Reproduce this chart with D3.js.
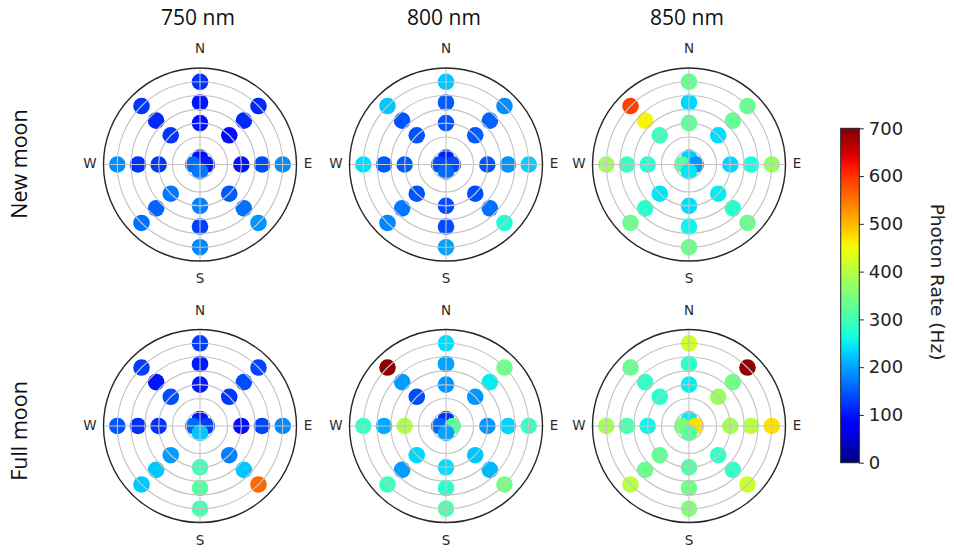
<!DOCTYPE html>
<html>
<head>
<meta charset="utf-8">
<script src="https://cdn.jsdelivr.net/npm/d3@7"></script>
<style>
  html, body { margin: 0; padding: 0; background: #fff; }
  svg { display: block; }
</style>
</head>
<body>
<svg id="chart" width="954" height="552"></svg>
<script>
// ---------------- data ----------------
const wavelengths = ["750 nm", "800 nm", "850 nm"];
const conditions = ["New moon", "Full moon"];
const compassLabels = ["N", "E", "S", "W"];
const directions = ["N", "NE", "E", "SE", "S", "SW", "W", "NW"];      // azimuth 0,45,...,315
const directionAzimuth = [0, 45, 90, 135, 180, 225, 270, 315];
const zenithRings = [30, 45, 60];                                    // zenith angle (deg)
const centerDirections = ["N", "W", "E", "S"];
const centerAzimuth = [0, 270, 90, 180];
const centerZenith = 5;
const gridZenith = [10, 20, 30, 40, 50, 60];
const zenithMax = 70;
const colorTicks = [0, 100, 200, 300, 400, 500, 600, 700];

// photon rate (Hz): rows = directions N..NW, columns = zenith 30,45,60
const newMoon750 = [
  [100, 100, 120], [95, 115, 115], [100, 140, 185], [150, 165, 190],
  [175, 130, 180], [170, 155, 165], [125, 120, 185], [125, 115, 125]
];
const newMoon750Center = [95, 160, 105, 170];   // N, W, E, S
const newMoon800 = [
  [145, 150, 225], [150, 155, 185], [145, 190, 230], [140, 165, 270],
  [140, 140, 200], [145, 170, 180], [150, 150, 240], [145, 145, 225]
];
const newMoon800Center = [110, 140, 140, 160];
const newMoon850 = [
  [325, 235, 330], [240, 330, 330], [235, 265, 370], [250, 280, 335],
  [240, 255, 335], [245, 280, 335], [275, 290, 380], [295, 455, 590]
];
const newMoon850Center = [230, 320, 190, 245];
const fullMoon750 = [
  [105, 105, 130], [125, 140, 135], [95, 135, 180], [175, 225, 560],
  [300, 320, 305], [195, 225, 225], [120, 120, 145], [140, 100, 130]
];
const fullMoon750Center = [100, 160, 130, 225];
const fullMoon800 = [
  [190, 200, 240], [190, 250, 340], [190, 235, 290], [225, 215, 345],
  [240, 280, 310], [235, 195, 295], [395, 205, 290], [140, 195, 690]
];
const fullMoon800Center = [120, 160, 320, 200];
const fullMoon850 = [
  [250, 285, 420], [375, 340, 690], [385, 400, 470], [290, 290, 415],
  [315, 340, 355], [330, 335, 400], [255, 310, 385], [280, 290, 335]
];
const fullMoon850Center = [250, 350, 470, 320];

const panels = [
  { row: 0, col: 0, ring: newMoon750, center: newMoon750Center },
  { row: 0, col: 1, ring: newMoon800, center: newMoon800Center },
  { row: 0, col: 2, ring: newMoon850, center: newMoon850Center },
  { row: 1, col: 0, ring: fullMoon750, center: fullMoon750Center },
  { row: 1, col: 1, ring: fullMoon800, center: fullMoon800Center },
  { row: 1, col: 2, ring: fullMoon850, center: fullMoon850Center }
];

// ---------------- jet colormap (matplotlib segment data) ----------------
const jetR = d3.scaleLinear().domain([0, 0.35, 0.66, 0.89, 1]).range([0, 0, 1, 1, 0.5]).clamp(true);
const jetG = d3.scaleLinear().domain([0, 0.125, 0.375, 0.64, 0.91, 1]).range([0, 0, 1, 1, 0, 0]).clamp(true);
const jetB = d3.scaleLinear().domain([0, 0.11, 0.34, 0.65, 1]).range([0.5, 1, 1, 0, 0]).clamp(true);
const norm = d3.scaleLinear().domain([0, 700]).range([0, 1]).clamp(true);
function jet(v) {
  const t = norm(v);
  return d3.rgb(jetR(t) * 255, jetG(t) * 255, jetB(t) * 255).formatHex();
}

// ---------------- layout ----------------
const svg = d3.select("#chart");
const colX = d3.scaleOrdinal().domain([0, 1, 2]).range([200, 446, 689]);
const rowY = d3.scaleOrdinal().domain([0, 1]).range([164.5, 426]);
const rScale = d3.scaleLinear().domain([0, zenithMax]).range([0, 96.5]);
const markerR = 8.3;

// titles
svg.selectAll("text.title").data(wavelengths).join("text")
  .attr("class", "title")
  .attr("x", (d, i) => colX(i) - 2)
  .attr("y", 25)
  .attr("text-anchor", "middle")
  .attr("font-family", "'Open Sans', 'Liberation Sans', sans-serif")
  .attr("font-size", 21)
  .attr("fill", "#111")
  .text(d => d);

// row labels
svg.selectAll("text.rowlab").data(conditions).join("text")
  .attr("class", "rowlab")
  .attr("transform", (d, i) => `translate(26.5,${i === 0 ? 164 : 431}) rotate(-90)`)
  .attr("text-anchor", "middle")
  .attr("font-family", "'Open Sans', 'Liberation Sans', sans-serif")
  .attr("font-size", 21.5)
  .attr("fill", "#111")
  .text(d => d);

// panels
panels.forEach(p => {
  const g = svg.append("g")
    .attr("transform", `translate(${colX(p.col)},${rowY(p.row)})`);

  const pts = [];
  p.center.forEach((v, i) => pts.push({ az: centerAzimuth[i], z: centerZenith, v }));
  p.ring.forEach((vals, di) => vals.forEach((v, ri) =>
    pts.push({ az: directionAzimuth[di], z: zenithRings[ri], v })));

  g.selectAll("circle.pt").data(pts).join("circle")
    .attr("class", "pt")
    .attr("cx", d => d3.pointRadial(d.az * Math.PI / 180, rScale(d.z))[0])
    .attr("cy", d => d3.pointRadial(d.az * Math.PI / 180, rScale(d.z))[1])
    .attr("r", markerR)
    .attr("fill", d => jet(d.v));

  // grid circles (drawn above markers, like matplotlib)
  g.selectAll("circle.grid").data(gridZenith).join("circle")
    .attr("class", "grid")
    .attr("r", d => rScale(d))
    .attr("fill", "none")
    .attr("stroke", "#c4c4c4")
    .attr("stroke-width", 1.1);

  // radial lines at N, E, S, W
  g.selectAll("line.spoke").data([0, 90, 180, 270]).join("line")
    .attr("class", "spoke")
    .attr("x1", 0).attr("y1", 0)
    .attr("x2", d => d3.pointRadial(d * Math.PI / 180, rScale(zenithMax))[0])
    .attr("y2", d => d3.pointRadial(d * Math.PI / 180, rScale(zenithMax))[1])
    .attr("stroke", "#c4c4c4")
    .attr("stroke-width", 1.1);

  // outer frame
  g.append("circle")
    .attr("r", rScale(zenithMax))
    .attr("fill", "none")
    .attr("stroke", "#262626")
    .attr("stroke-width", 1.4);

  // compass labels
  const labOff = { N: [0, -116], E: [108, -1], S: [0, 114], W: [-110, -1] };
  g.selectAll("text.cmp").data(compassLabels).join("text")
    .attr("class", "cmp")
    .attr("x", d => labOff[d][0])
    .attr("y", d => labOff[d][1])
    .attr("dy", "0.36em")
    .attr("text-anchor", "middle")
    .attr("font-family", "'DejaVu Sans', sans-serif")
    .attr("font-size", 13.5)
    .attr("fill", "#2a2a2a")
    .text(d => d);
});

// ---------------- colorbar ----------------
const cbX = 840.7, cbW = 18.6, cbTop = 128.3, cbBot = 462.7;
const defs = svg.append("defs");
const grad = defs.append("linearGradient")
  .attr("id", "jetgrad")
  .attr("x1", 0).attr("y1", 1).attr("x2", 0).attr("y2", 0);
grad.selectAll("stop").data(d3.range(0, 1.0001, 0.02)).join("stop")
  .attr("offset", d => d)
  .attr("stop-color", d => jet(d * 700));

svg.append("rect")
  .attr("x", cbX).attr("y", cbTop)
  .attr("width", cbW).attr("height", cbBot - cbTop)
  .attr("fill", "url(#jetgrad)")
  .attr("stroke", "#222")
  .attr("stroke-width", 1);

const cbScale = d3.scaleLinear().domain([0, 700]).range([cbBot, cbTop]);
const cbAxis = svg.append("g")
  .attr("transform", `translate(${cbX + cbW},0)`)
  .call(d3.axisRight(cbScale).tickValues(colorTicks).tickSize(4.5).tickPadding(5));
cbAxis.select(".domain").remove();
cbAxis.selectAll(".tick line").attr("stroke", "#222").attr("stroke-width", 1);
cbAxis.selectAll(".tick text")
  .attr("font-family", "'DejaVu Sans', sans-serif")
  .attr("font-size", 18)
  .attr("fill", "#222");

svg.append("text")
  .attr("transform", "translate(931,282) rotate(90)")
  .attr("text-anchor", "middle")
  .attr("font-family", "'DejaVu Sans', sans-serif")
  .attr("font-size", 18.5)
  .attr("fill", "#222")
  .text("Photon Rate (Hz)");
</script>
</body>
</html>
